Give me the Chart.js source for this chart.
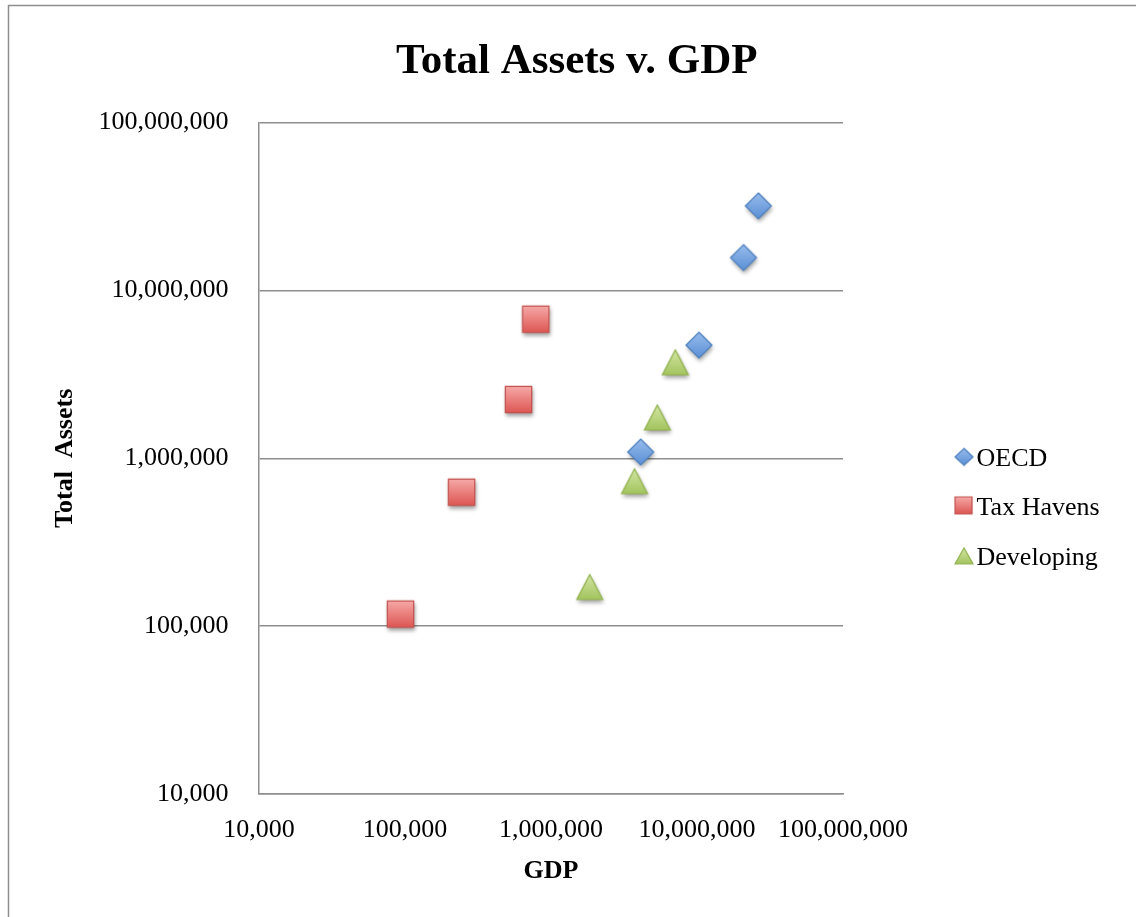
<!DOCTYPE html>
<html>
<head>
<meta charset="utf-8">
<script src="https://cdn.jsdelivr.net/npm/chart.js@4.4.1/dist/chart.umd.min.js"></script>
<style>
  html, body { margin: 0; padding: 0; background: #ffffff; }
  canvas { display: block; }
</style>
</head>
<body>
<canvas id="chart" width="1136" height="917"></canvas>
<script>
// Series: GDP (x) against total assets (y)
const seriesNames = ['OECD', 'Tax Havens', 'Developing'];

const oecdGdp    = [26300000, 20800000, 10300000, 4110000];
const oecdAssets = [31900000, 15700000, 4720000, 1090000];

const havenGdp    = [786000, 599000, 244000, 93200];
const havenAssets = [6740000, 2240000, 628000, 118000];

const devGdp    = [7100000, 5350000, 3730000, 1840000];
const devAssets = [3730000, 1750000, 730000, 171000];

const xTickValues = [10000, 100000, 1000000, 10000000, 100000000];
const yTickValues = [10000, 100000, 1000000, 10000000, 100000000];

const SERIF = '"Liberation Serif", "Times New Roman", Times, serif';

function zip(xs, ys) { return xs.map((x, i) => ({ x: x, y: ys[i] })); }

// Draws a glossy marker on its own small canvas, used as a Chart.js pointStyle.
function marker(shape, hw, hh, topColor, bottomColor, edgeColor, opt) {
  opt = opt || {};
  const dx = opt.dx || 0, dy = opt.dy || 0, shadow = !!opt.shadow;
  const margin = 8;
  const w = Math.ceil(2 * (hw + margin + Math.abs(dx)));
  const h = Math.ceil(2 * (hh + margin + Math.abs(dy)));
  const cv = document.createElement('canvas');
  cv.width = w; cv.height = h;
  const g = cv.getContext('2d');
  const cx = w / 2 + dx, cy = h / 2 + dy;
  const path = () => {
    g.beginPath();
    if (shape === 'diamond') {
      g.moveTo(cx, cy - hh); g.lineTo(cx + hw, cy); g.lineTo(cx, cy + hh); g.lineTo(cx - hw, cy);
    } else if (shape === 'square') {
      g.rect(cx - hw, cy - hh, 2 * hw, 2 * hh);
    } else {
      g.moveTo(cx, cy - hh); g.lineTo(cx + hw, cy + hh); g.lineTo(cx - hw, cy + hh);
    }
    g.closePath();
  };
  if (shadow) {
    g.save();
    g.shadowColor = 'rgba(0,0,0,0.38)';
    g.shadowBlur = 4;
    g.shadowOffsetX = 1;
    g.shadowOffsetY = 3;
    path(); g.fillStyle = bottomColor; g.fill();
    g.restore();
  }
  const grad = g.createLinearGradient(0, cy - hh, 0, cy + hh);
  grad.addColorStop(0, topColor);
  grad.addColorStop(1, bottomColor);
  path();
  g.fillStyle = grad; g.fill();
  g.lineWidth = 1.2; g.strokeStyle = edgeColor; g.stroke();
  return cv;
}

const BLUE  = ['#97bcec', '#5b8fd5', '#4a7ebb'];
const RED   = ['#f6a9a7', '#dd5653', '#c0504d'];
const GREEN = ['#d3e6a4', '#a3c45e', '#8fb04c'];

const plotMarkers = [
  marker('diamond', 13, 13, BLUE[0], BLUE[1], BLUE[2], { shadow: true }),
  marker('square', 13.2, 13.2, RED[0], RED[1], RED[2], { shadow: true }),
  marker('triangle', 13, 12.5, GREEN[0], GREEN[1], GREEN[2], { shadow: true })
];

// Legend swatches sit at the right end of a wide legend box
const legendMarkers = [
  marker('diamond', 9, 8.5, BLUE[0], BLUE[1], BLUE[2], { dx: 49, dy: -2 }),
  marker('square', 8.5, 8.5, RED[0], RED[1], RED[2], { dx: 48.5, dy: -3 }),
  marker('triangle', 9, 8, GREEN[0], GREEN[1], GREEN[2], { dx: 49, dy: -2 })
];

const pageFrame = {
  id: 'pageFrame',
  beforeDraw(chart) {
    const ctx = chart.ctx;
    ctx.save();
    ctx.fillStyle = '#ffffff';
    ctx.fillRect(0, 0, chart.width, chart.height);
    ctx.strokeStyle = '#8e8e8e';
    ctx.lineWidth = 1.5;
    ctx.strokeRect(8.5, 5.5, chart.width + 40, chart.height + 40);
    ctx.restore();
  }
};

const fmt = v => Number(v).toLocaleString('en-US');

new Chart(document.getElementById('chart'), {
  type: 'scatter',
  data: {
    datasets: [
      { label: seriesNames[0], data: zip(oecdGdp, oecdAssets), pointStyle: plotMarkers[0] },
      { label: seriesNames[1], data: zip(havenGdp, havenAssets), pointStyle: plotMarkers[1] },
      { label: seriesNames[2], data: zip(devGdp, devAssets), pointStyle: plotMarkers[2] }
    ]
  },
  options: {
    responsive: false,
    animation: false,
    events: [],
    layout: { padding: { left: 44, right: 26.6, top: 0, bottom: 0 } },
    scales: {
      x: {
        type: 'logarithmic',
        min: 10000,
        max: 100000000,
        afterBuildTicks: s => { s.ticks = xTickValues.map(v => ({ value: v })); },
        afterFit: s => { s.height = 123; },
        grid: { display: false },
        border: { display: true, color: '#8e8e8e', width: 1.5 },
        ticks: {
          autoSkip: false, maxRotation: 0, padding: 12.5, color: '#000',
          font: { family: SERIF, size: 26 },
          callback: fmt
        },
        title: {
          display: true, text: 'GDP', color: '#000',
          font: { family: SERIF, size: 26, weight: 'bold' },
          padding: { top: 0, bottom: 30.3 }
        }
      },
      y: {
        type: 'logarithmic',
        min: 10000,
        max: 100000000,
        afterBuildTicks: s => { s.ticks = yTickValues.map(v => ({ value: v })); },
        afterFit: s => { s.width = 215; },
        grid: { color: '#8e8e8e', lineWidth: 1.5, drawTicks: false },
        border: { display: true, color: '#8e8e8e', width: 1.5 },
        ticks: {
          autoSkip: false, padding: 30.5, color: '#000',
          font: { family: SERIF, size: 26 },
          callback: fmt
        },
        title: {
          display: true, text: 'Total  Assets', color: '#000',
          font: { family: SERIF, size: 26, weight: 'bold' },
          padding: { top: 6, bottom: 0 }
        }
      }
    },
    plugins: {
      tooltip: { enabled: false },
      title: {
        display: true,
        text: 'Total Assets v. GDP',
        color: '#000',
        font: { family: SERIF, size: 43, weight: 'bold' },
        padding: { top: 36, bottom: 35 }
      },
      legend: {
        position: 'right',
        align: 'start',
        fullSize: false,
        title: { display: true, text: '', font: { size: 1 }, padding: { top: 298.6, bottom: 0 } },
        labels: {
          usePointStyle: true,
          pointStyleWidth: 97,
          padding: 23.5,
          color: '#000',
          font: { family: SERIF, size: 26 },
          generateLabels: chart => chart.data.datasets.map((ds, i) => ({
            text: ds.label,
            pointStyle: legendMarkers[i],
            datasetIndex: i,
            hidden: false,
            lineWidth: 0,
            fillStyle: 'rgba(0,0,0,0)',
            strokeStyle: 'rgba(0,0,0,0)',
            fontColor: '#000'
          }))
        }
      }
    }
  },
  plugins: [pageFrame]
});
</script>
</body>
</html>
